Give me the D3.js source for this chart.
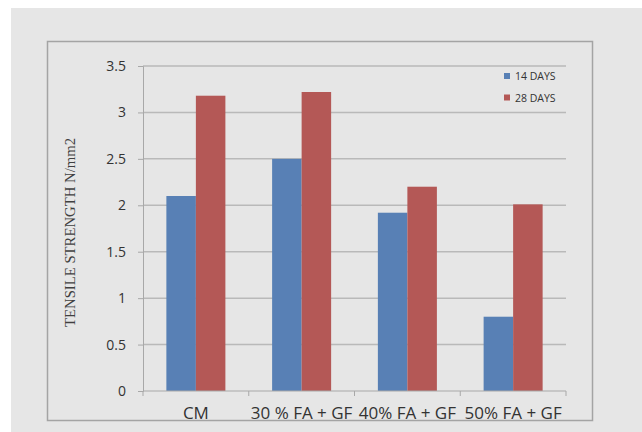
<!DOCTYPE html>
<html><head><meta charset="utf-8">
<script src="https://cdn.jsdelivr.net/npm/d3@7"></script>
<style>
html,body{margin:0;padding:0;background:#fff;}
svg{display:block;}
</style></head>
<body>
<script>
const categories = ["CM", "30 % FA + GF", "40% FA + GF", "50% FA + GF"];
const seriesNames = ["14 DAYS", "28 DAYS"];
const days14 = [2.1, 2.5, 1.92, 0.8];
const days28 = [3.18, 3.22, 2.2, 2.01];
const yTicks = [0, 0.5, 1, 1.5, 2, 2.5, 3, 3.5];
const yTitle = "TENSILE STRENGTH  N/mm2";
const colors = ["#5880b5", "#b45856"];

const W = 642, H = 432;
const svg = d3.select("body").append("svg").attr("width", W).attr("height", H);
svg.append("rect").attr("x", 11).attr("y", 8).attr("width", W - 11).attr("height", H - 8).attr("fill", "#e6e6e6");
svg.append("rect").attr("x", 47.5).attr("y", 41.5).attr("width", 545).attr("height", 379)
  .attr("fill", "#e6e6e6").attr("stroke", "#a4a4a4").attr("stroke-width", 1.5);

const plotL = 143, plotR = 566, plotT = 66, plotB = 391;
const y = d3.scaleLinear().domain([0, 3.5]).range([plotB, plotT]);
const x0 = d3.scaleBand().domain(categories).range([plotL, plotR]).paddingInner(0.442).paddingOuter(0.221);
const x1 = d3.scaleBand().domain(seriesNames).range([0, x0.bandwidth()]);

// gridlines
svg.append("g").selectAll("line").data(yTicks.filter(d => d > 0)).join("line")
  .attr("x1", plotL).attr("x2", plotR).attr("y1", d => y(d)).attr("y2", d => y(d))
  .attr("stroke", "#b9b9b9").attr("stroke-width", 1.5);

// y axis
const yAxis = svg.append("g").attr("transform", `translate(${plotL},0)`)
  .call(d3.axisLeft(y).tickValues(yTicks).tickSize(5).tickPadding(12).tickFormat(d => String(d)));
yAxis.select(".domain").attr("stroke", "#a8a8a8");
yAxis.selectAll(".tick line").attr("stroke", "#a8a8a8");
yAxis.selectAll("text").attr("font-family", "'Open Sans', sans-serif").attr("font-size", 14).attr("fill", "#333");

// bars
const series = [days14, days28];
const g = svg.append("g");
categories.forEach((c, i) => {
  series.forEach((s, j) => {
    g.append("rect")
      .attr("x", x0(c) + x1(seriesNames[j]))
      .attr("y", y(s[i]))
      .attr("width", x1.bandwidth())
      .attr("height", y(0) - y(s[i]))
      .attr("fill", colors[j]);
  });
});

// x axis
const xAxis = svg.append("g").attr("transform", `translate(0,${plotB})`);
xAxis.append("line").attr("x1", plotL).attr("x2", plotR).attr("y1", 0).attr("y2", 0).attr("stroke", "#a8a8a8");
const bounds = categories.map(c => x0(c) - x0.step() * x0.paddingInner() / 2);
bounds.push(plotR);
xAxis.selectAll(".xt").data(bounds).join("line").attr("class", "xt")
  .attr("x1", d => d).attr("x2", d => d).attr("y1", 0).attr("y2", 5).attr("stroke", "#a8a8a8");
xAxis.selectAll("text").data(categories).join("text")
  .attr("x", d => x0(d) + x0.bandwidth() / 2).attr("y", 27.5)
  .attr("text-anchor", "middle").attr("font-family", "'Open Sans', sans-serif").attr("font-size", 17)
  .attr("fill", "#333").text(d => d);

// y title
svg.append("text").attr("transform", `translate(75,232.5) rotate(-90)`)
  .attr("text-anchor", "middle").attr("font-family", "'Liberation Serif', serif").attr("font-size", 14)
  .attr("textLength", 189).attr("lengthAdjust", "spacingAndGlyphs")
  .attr("fill", "#404040").text(yTitle);

// legend
const leg = svg.append("g");
seriesNames.forEach((n, j) => {
  const ly = 76 + j * 21.5;
  leg.append("rect").attr("x", 504).attr("y", ly - 3).attr("width", 6).attr("height", 6).attr("fill", colors[j]);
  leg.append("text").attr("x", 515).attr("y", ly + 4).attr("font-family", "'Open Sans', sans-serif")
    .attr("font-size", 10.5).attr("fill", "#333").text(n);
});
</script>
</body></html>
